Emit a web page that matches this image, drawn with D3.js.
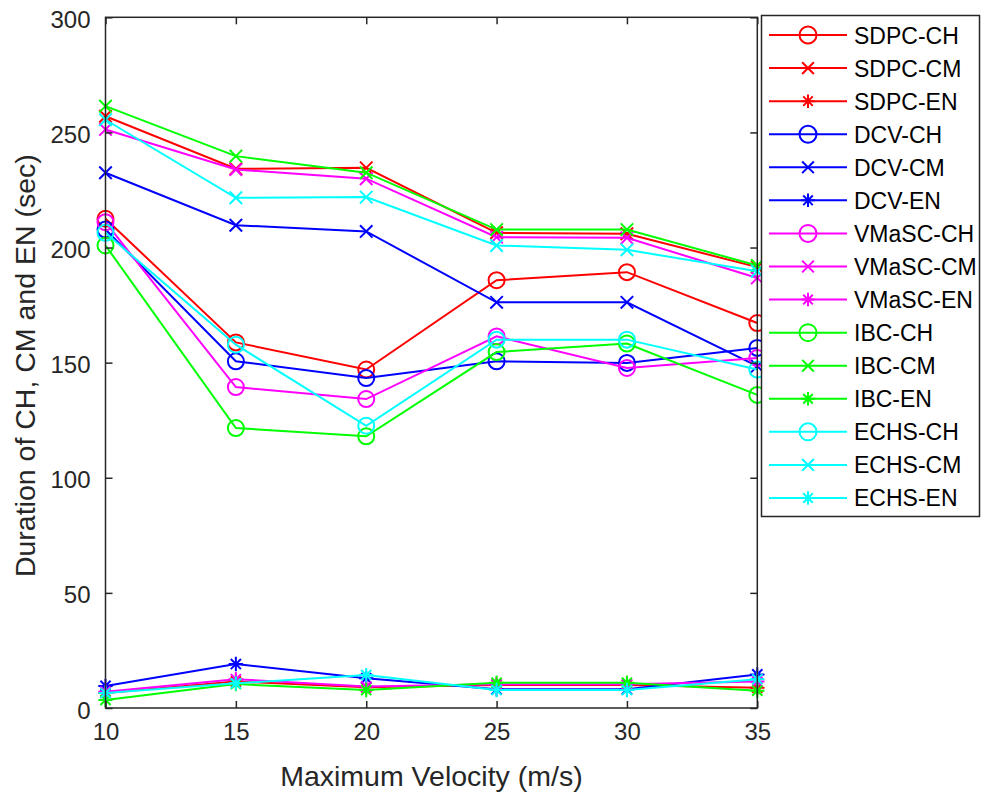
<!DOCTYPE html>
<html>
<head>
<meta charset="utf-8">
<script src="https://cdn.jsdelivr.net/npm/d3@7"></script>
<style>
  html, body { margin: 0; padding: 0; background: #fff; }
  svg { display: block; font-family: "Liberation Sans", Arial, sans-serif; }
</style>
</head>
<body>
<svg id="chart" width="982" height="796"></svg>
<script>
const velocities = [10, 15, 20, 25, 30, 35];
const xTicks = [10, 15, 20, 25, 30, 35];
const yTicks = [0, 50, 100, 150, 200, 250, 300];

const sdpcCH  = [212.5, 158.8, 147.0, 185.8, 189.3, 167.2];
const sdpcCM  = [257.0, 234.2, 234.6, 206.4, 206.0, 191.5];
const sdpcEN  = [6.5, 11.5, 9.0, 10.0, 10.0, 8.8];
const dcvCH   = [207.8, 150.6, 143.3, 150.6, 149.9, 156.4];
const dcvCM   = [232.5, 209.7, 207.0, 176.2, 176.2, 148.5];
const dcvEN   = [9.6, 19.1, 12.9, 8.1, 8.1, 14.6];
const vmascCH = [211.0, 139.4, 134.2, 161.4, 147.7, 152.0];
const vmascCM = [251.3, 233.9, 229.9, 204.5, 204.2, 186.8];
const vmascEN = [7.1, 12.5, 9.3, 10.3, 10.3, 11.5];
const ibcCH   = [200.9, 121.6, 118.0, 154.6, 158.3, 136.0];
const ibcCM   = [261.4, 239.7, 232.5, 207.8, 207.8, 192.2];
const ibcEN   = [3.5, 10.4, 7.8, 11.0, 11.0, 7.5];
const echsCH  = [206.4, 157.8, 122.6, 160.0, 160.0, 147.0];
const echsCM  = [255.5, 221.6, 221.9, 200.9, 199.0, 189.7];
const echsEN  = [6.5, 10.7, 14.3, 7.8, 7.8, 12.5];

const seriesNames = ["SDPC-CH","SDPC-CM","SDPC-EN","DCV-CH","DCV-CM","DCV-EN",
  "VMaSC-CH","VMaSC-CM","VMaSC-EN","IBC-CH","IBC-CM","IBC-EN","ECHS-CH","ECHS-CM","ECHS-EN"];
const seriesValues = [sdpcCH, sdpcCM, sdpcEN, dcvCH, dcvCM, dcvEN,
  vmascCH, vmascCM, vmascEN, ibcCH, ibcCM, ibcEN, echsCH, echsCM, echsEN];
const methodColors = ["#ff0000", "#0000ff", "#ff00ff", "#00ff00", "#00ffff"];
const markerKinds = ["circle", "x", "asterisk"];

const series = seriesNames.map((name, i) => ({
  name,
  values: seriesValues[i],
  color: methodColors[Math.floor(i / 3)],
  marker: markerKinds[i % 3]
}));

const svg = d3.select("#chart");
const L = 105.5, R = 757.3, T = 17.3, B = 708;
const x = d3.scaleLinear().domain([10, 35]).range([L, R]);
const y = d3.scaleLinear().domain([0, 300]).range([B, T]);
const axisColor = "#262626";

function drawMarker(g, kind, cx, cy, color, size) {
  if (kind === "circle") {
    g.append("circle").attr("cx", cx).attr("cy", cy).attr("r", size)
      .attr("fill", "none").attr("stroke", color).attr("stroke-width", 2);
  } else if (kind === "x") {
    const s = size * 0.78;
    g.append("path")
      .attr("d", `M${cx - s},${cy - s}L${cx + s},${cy + s}M${cx - s},${cy + s}L${cx + s},${cy - s}`)
      .attr("stroke", color).attr("stroke-width", 2).attr("fill", "none");
  } else {
    const s = size * 0.9, d = s * 0.707;
    g.append("path")
      .attr("d", `M${cx},${cy - s}L${cx},${cy + s}M${cx - s},${cy}L${cx + s},${cy}` +
                 `M${cx - d},${cy - d}L${cx + d},${cy + d}M${cx - d},${cy + d}L${cx + d},${cy - d}`)
      .attr("stroke", color).attr("stroke-width", 2).attr("fill", "none");
  }
}

const line = d3.line().x((d, i) => x(velocities[i])).y(d => y(d));
const plotG = svg.append("g");
series.forEach(s => {
  const g = plotG.append("g");
  g.append("path").datum(s.values).attr("d", line)
    .attr("fill", "none").attr("stroke", s.color).attr("stroke-width", 2);
  s.values.forEach((v, i) => drawMarker(g, s.marker, x(velocities[i]), y(v), s.color, 8));
});

const axG = svg.append("g");
axG.append("rect").attr("x", L).attr("y", T).attr("width", R - L).attr("height", B - T)
  .attr("fill", "none").attr("stroke", axisColor).attr("stroke-width", 1.5);

const xAxis = d3.axisBottom(x).tickValues(xTicks).tickSize(-7).tickPadding(15).tickFormat(d3.format("d"));
const gx = svg.append("g").attr("transform", `translate(0,${B})`).call(xAxis);
const xTop = d3.axisTop(x).tickValues(xTicks).tickSize(-7).tickFormat("");
const gxt = svg.append("g").attr("transform", `translate(0,${T})`).call(xTop);
const yAxis = d3.axisLeft(y).tickValues(yTicks).tickSize(-7).tickPadding(15).tickFormat(d3.format("d"));
const gy = svg.append("g").attr("transform", `translate(${L},0)`).call(yAxis);
const yRight = d3.axisRight(y).tickValues(yTicks).tickSize(-7).tickFormat("");
const gyr = svg.append("g").attr("transform", `translate(${R},0)`).call(yRight);

[gx, gxt, gy, gyr].forEach(g => {
  g.select(".domain").remove();
  g.selectAll(".tick line").attr("stroke", axisColor).attr("stroke-width", 1.5);
  g.selectAll(".tick text").attr("fill", axisColor).attr("font-size", 24)
    .attr("font-family", '"Liberation Sans", Arial, sans-serif');
});
gy.selectAll(".tick text").attr("dy", "0.42em");

svg.append("text").attr("x", (L + R) / 2).attr("y", 786)
  .attr("text-anchor", "middle").attr("fill", axisColor).attr("font-size", 28.5)
  .text("Maximum Velocity (m/s)");
svg.append("text").attr("transform", `translate(35,${(T + B) / 2 + 3}) rotate(-90)`)
  .attr("text-anchor", "middle").attr("fill", axisColor).attr("font-size", 28.5)
  .text("Duration of CH, CM and EN (sec)");

const lg = svg.append("g");
lg.append("rect").attr("x", 761.5).attr("y", 15.5).attr("width", 218).attr("height", 501)
  .attr("fill", "#fff").attr("stroke", axisColor).attr("stroke-width", 1.5);
series.forEach((s, i) => {
  const cy = 35 + i * 33.07;
  lg.append("line").attr("x1", 769).attr("x2", 847).attr("y1", cy).attr("y2", cy)
    .attr("stroke", s.color).attr("stroke-width", 2);
  drawMarker(lg, s.marker, 808, cy, s.color, s.marker === "circle" ? 8.5 : 7.5);
  lg.append("text").attr("x", 854).attr("y", cy + 8.5).attr("fill", "#000")
    .attr("font-size", 23).text(s.name);
});
</script>
</body>
</html>
